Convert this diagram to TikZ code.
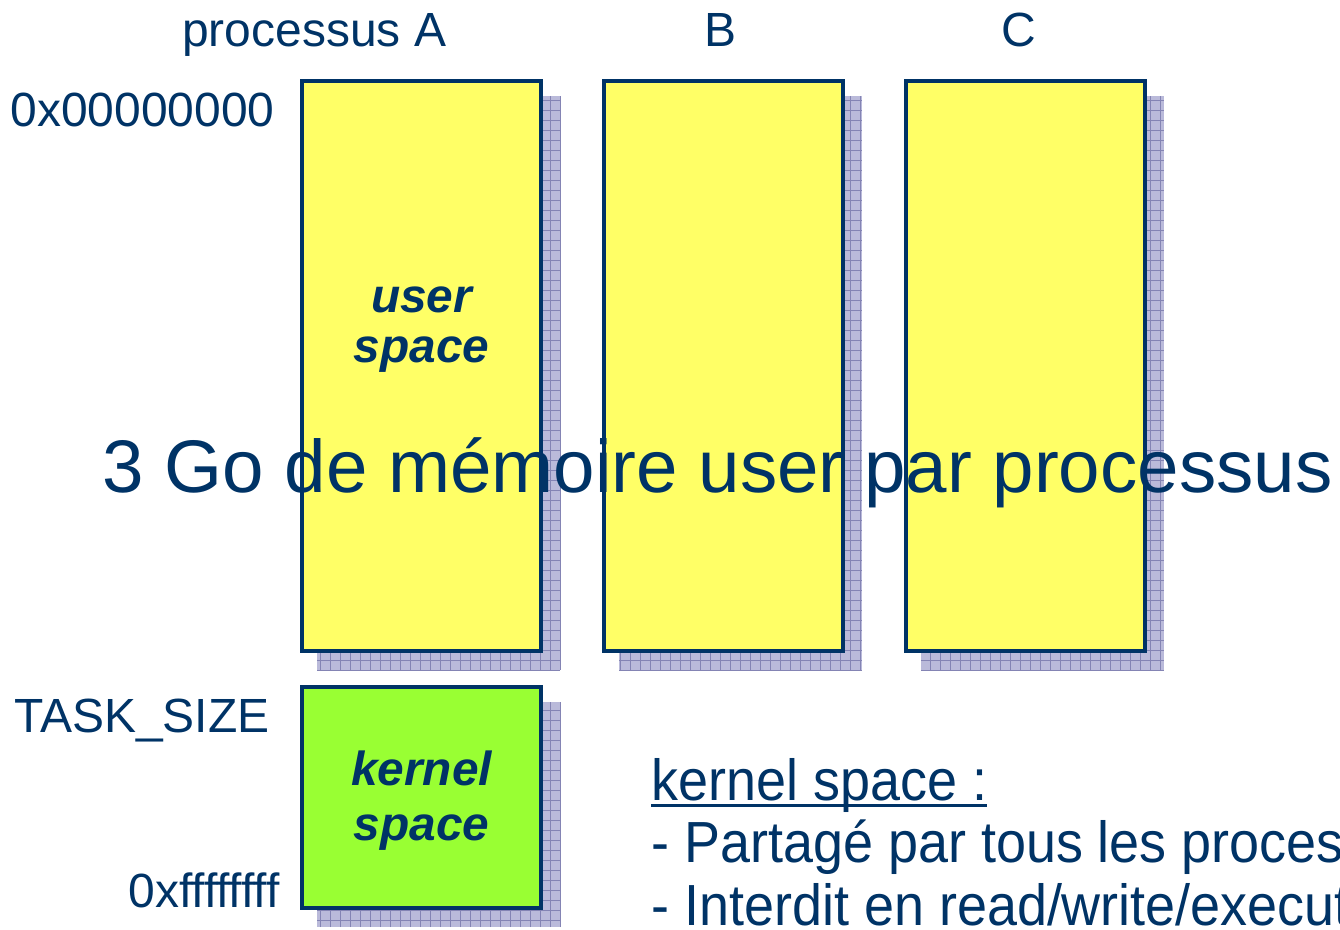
\documentclass[tikz,border=0pt]{standalone}
\usepackage{fontspec}
\setmainfont{Liberation Sans}
\newfontfamily\narrowsans[FakeStretch=0.93]{Liberation Sans}
\usetikzlibrary{positioning,calc,backgrounds}
\definecolor{memnavy}{HTML}{003366}
\definecolor{memyellow}{HTML}{FFFF66}
\definecolor{memgreen}{HTML}{99FF33}
\definecolor{memshade}{HTML}{BABADA}
\definecolor{memgrid}{HTML}{8484B4}

\begin{document}
\begin{tikzpicture}[node distance=0.64cm and 1.18cm, every node/.style={text=memnavy}]
    \tikzstyle{memblock}=[draw=memnavy,fill=memyellow,line width=0.08cm,inner sep=0pt,minimum width=4.78cm,minimum height=11.4cm]
    \tikzstyle{addr}=[font=\fontsize{27.3}{32}\selectfont,inner sep=0pt]
    \tikzstyle{inlabel}=[font=\fontsize{27.2}{28.5}\selectfont\bfseries\itshape,align=center,inner sep=0pt]
    \tikzstyle{note}=[font=\narrowsans\fontsize{33}{40}\selectfont,anchor=base west,inner sep=0pt]
    \path[use as bounding box,clip] (0,0) rectangle (26.8,-18.6);
    \node[memblock,anchor=north west] (procA) at (6.0,-1.58) {};
    \node[memblock,right=of procA] (procB) {};
    \node[memblock,right=of procB] (procC) {};
    \node[memblock,fill=memgreen,minimum height=4.42cm,below=of procA] (kern) {};
    \begin{scope}[on background layer]
        \foreach \n in {procA,procB,procC,kern}{
            \fill[memshade] ($(\n.south west)+(0.34,-0.34)$) rectangle ($(\n.north east)+(0.34,-0.34)$);
            \draw[memgrid,line width=0.4pt,step=0.2] ($(\n.south west)+(0.34,-0.34)$) grid ($(\n.north east)+(0.34,-0.34)$);
        }
    \end{scope}
    \node[addr,anchor=base east] (hdrA) at ($(procA.north)+(0.5,0.64)$) {processus A};
    \node[addr,anchor=base] (hdrB) at ($(procB.north)+(-0.07,0.64)$) {B};
    \node[addr,anchor=base] (hdrC) at ($(procC.north)+(-0.13,0.64)$) {C};
    \node[addr,anchor=base east] (addrlow) at ($(procA.north west)+(-0.5,-0.96)$) {0x00000000};
    \node[addr,anchor=base west] (tasksize) at ($(kern.north west)+(-5.72,-0.94)$) {TASK\_SIZE};
    \node[addr,anchor=base east] (addrhigh) at ($(kern.south west)+(-0.4,0.06)$) {0xffffffff};
    \node[inlabel] (userlbl) at ($(procA.center)+(0,0.72)$) {user\\space};
    \node[inlabel,font=\fontsize{27.2}{31.3}\selectfont\bfseries\itshape] (kernlbl) at ($(kern.center)+(0,-0.06)$) {kernel\\space};
    \node[font=\fontsize{42.4}{50}\selectfont,anchor=base,inner sep=0pt] (motto) at ($(procB.center)+(-0.12,-2.52)$) {3 Go de mémoire user par processus};
    \node[note] (knote) at ($(kern.north east)+(2.16,-2.3)$) {kernel space :};
    \draw[memnavy,line width=0.06cm] ($(knote.base west)+(0,-0.1)$) -- ($(knote.base east)+(0,-0.1)$);
    \node[note] (shared) at ($(knote.base west)+(0,-1.24)$) {- Partagé par tous les processus};
    \node[note] (denied) at ($(shared.base west)+(0,-1.26)$) {- Interdit en read/write/execute};
\end{tikzpicture}
\end{document}
